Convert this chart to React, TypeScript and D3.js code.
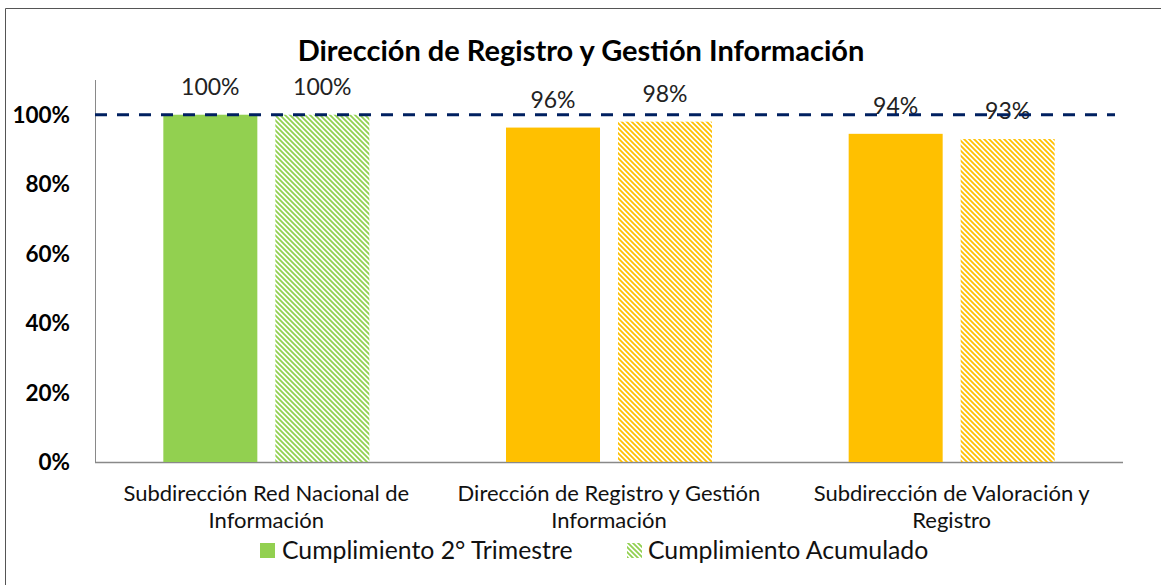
import React from "react";
import * as d3 from "d3";

const categories = [
  ["Subdirección Red Nacional de", "Información"],
  ["Dirección de Registro y Gestión", "Información"],
  ["Subdirección de Valoración y", "Registro"],
];
const trimestre = [1.0, 0.963, 0.945];
const acumulado = [1.0, 0.98, 0.93];
const trimestreLabels = ["100%", "96%", "94%"];
const acumuladoLabels = ["100%", "98%", "93%"];
const barColors = ["#92D050", "#FFC000", "#FFC000"];
const yTicks = [0, 0.2, 0.4, 0.6, 0.8, 1.0];
const seriesNames = ["Cumplimiento 2° Trimestre", "Cumplimiento Acumulado"];
const target = 1.0;

const W = 1161;
const H = 585;
const left = 95;
const right = 1123;
const top = 80;
const bottom = 462;
const font = "Lato, 'Open Sans', sans-serif";

export default function App() {
  const x = d3.scaleBand<number>().domain([0, 1, 2]).range([left, right]).paddingInner(0).paddingOuter(0);
  const y = d3.scaleLinear().domain([0, 1.1]).range([bottom, top]);
  const barW = 94;
  const gap = 18;
  const fmt = d3.format(".0%");

  return (
    <svg width={W} height={H} style={{ position: "absolute", left: 0, top: 0 }}>
      <defs>
        {["#92D050", "#FFC000"].map((c, i) => (
          <pattern key={i} id={`hatch${i}`} width={5} height={5} patternUnits="userSpaceOnUse">
            <path d="M-1,-1 L6,6 M-1,4 L1,6 M4,-1 L6,1" stroke={c} strokeWidth={1.8} />
          </pattern>
        ))}
      </defs>
      <rect x={0} y={0} width={W} height={H} fill="#fff" />
      <path d={`M5.5,${H + 5} L5.5,8.5 L${W + 5},8.5`} fill="none" stroke="#555" strokeWidth={1} />
      <text x={581} y={61} textAnchor="middle" fontFamily={font} fontWeight="bold" fontSize={29} fill="#000">
        Dirección de Registro y Gestión Información
      </text>
      {yTicks.map((t) => (
        <text key={t} x={70} y={y(t) + 8} textAnchor="end" fontFamily={font} fontWeight="bold" fontSize={22.5} fill="#000">
          {fmt(t)}
        </text>
      ))}
      <line x1={left + 0.5} x2={left + 0.5} y1={top} y2={bottom} stroke="#898989" strokeWidth={1} />
      <line x1={left} x2={right} y1={bottom + 0.5} y2={bottom + 0.5} stroke="#898989" strokeWidth={1.5} />
      {categories.map((c, i) => {
        const cx = x(i)! + x.bandwidth() / 2;
        const x1 = cx - gap / 2 - barW;
        const x2 = cx + gap / 2;
        return (
          <g key={i}>
            <rect x={x1} y={y(trimestre[i])} width={barW} height={bottom - y(trimestre[i])} fill={barColors[i]} />
            <rect
              x={x2}
              y={y(acumulado[i])}
              width={barW}
              height={bottom - y(acumulado[i])}
              fill={`url(#hatch${barColors[i] === "#92D050" ? 0 : 1})`}
            />
            <text x={x1 + barW / 2} y={y(trimestre[i]) - 20} textAnchor="middle" fontFamily={font} fontSize={23} fill="#222">
              {trimestreLabels[i]}
            </text>
            <text x={x2 + barW / 2} y={y(acumulado[i]) - 20} textAnchor="middle" fontFamily={font} fontSize={23} fill="#222">
              {acumuladoLabels[i]}
            </text>
            {c.map((line, j) => (
              <text key={j} x={cx} y={501 + j * 27} textAnchor="middle" fontFamily={font} fontSize={22} fill="#111">
                {line}
              </text>
            ))}
          </g>
        );
      })}
      <line x1={left} x2={right - 8} y1={y(target)} y2={y(target)} stroke="#002060" strokeWidth={3} strokeDasharray="12,10" />
      <rect x={260} y={543} width={15} height={15} fill="#92D050" />
      <text x={282} y={559} fontFamily={font} fontSize={24.8} fill="#111">{seriesNames[0]}</text>
      <rect x={627} y={543} width={15} height={15} fill="url(#hatch0)" />
      <text x={648} y={559} fontFamily={font} fontSize={24.8} fill="#111">{seriesNames[1]}</text>
    </svg>
  );
}
